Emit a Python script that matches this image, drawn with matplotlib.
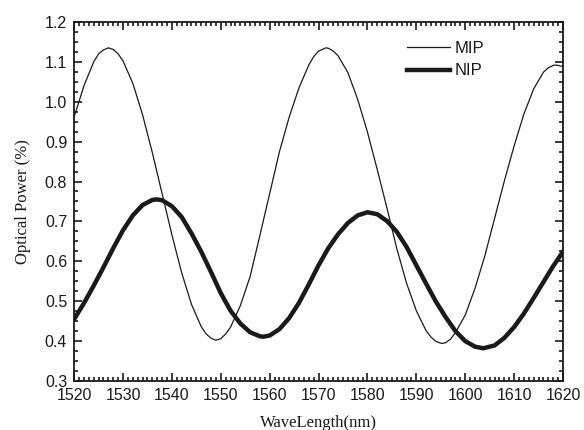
import matplotlib
matplotlib.use("Agg")
import matplotlib.pyplot as plt
from matplotlib.ticker import MultipleLocator


# wavelength grid (nm) and read-off values
mip_wl = [1520, 1522, 1524, 1525, 1526, 1527, 1528, 1529, 1530, 1532, 1534,
          1536, 1538, 1540, 1542, 1544, 1546, 1547, 1548, 1549, 1550, 1551,
          1552, 1554, 1556, 1558, 1560, 1562, 1564, 1566, 1568, 1569, 1570,
          1571.5, 1572, 1573, 1574, 1576, 1578, 1580, 1582, 1584, 1586, 1588,
          1590, 1592, 1593, 1594, 1595.2, 1596, 1597, 1598, 1600, 1602, 1604,
          1606, 1608, 1610, 1612, 1614, 1616, 1617, 1618, 1618.5, 1619, 1620]
mip_val = [0.962, 1.040, 1.100, 1.120, 1.130, 1.135, 1.131, 1.120, 1.102,
           1.046, 0.967, 0.872, 0.769, 0.666, 0.571, 0.492, 0.436, 0.418,
           0.407, 0.402, 0.406, 0.418, 0.435, 0.489, 0.562, 0.665, 0.770,
           0.875, 0.962, 1.035, 1.092, 1.113, 1.127, 1.135, 1.134, 1.127,
           1.115, 1.073, 1.006, 0.924, 0.830, 0.733, 0.632, 0.545, 0.476,
           0.426, 0.410, 0.399, 0.394, 0.396, 0.405, 0.421, 0.465, 0.532,
           0.613, 0.707, 0.801, 0.889, 0.969, 1.032, 1.074, 1.085, 1.091,
           1.092, 1.091, 1.088]

nip_wl = [1520, 1522, 1524, 1526, 1528, 1530, 1532, 1534, 1536, 1537, 1538,
          1540, 1542, 1544, 1546, 1548, 1550, 1552, 1554, 1556, 1558, 1558.7,
          1560, 1562, 1564, 1566, 1568, 1570, 1572, 1574, 1576, 1578, 1580,
          1582, 1584, 1586, 1588, 1590, 1592, 1594, 1596, 1598, 1600, 1602,
          1603.7, 1606, 1608, 1610, 1612, 1614, 1616, 1618, 1620]
nip_val = [0.455, 0.495, 0.539, 0.585, 0.633, 0.678, 0.715, 0.741, 0.754,
           0.755, 0.753, 0.738, 0.711, 0.670, 0.624, 0.573, 0.520, 0.476,
           0.444, 0.422, 0.412, 0.411, 0.414, 0.430, 0.458, 0.496, 0.542,
           0.590, 0.633, 0.668, 0.696, 0.715, 0.723, 0.718, 0.701, 0.674,
           0.636, 0.590, 0.544, 0.499, 0.460, 0.425, 0.400, 0.386, 0.382,
           0.389, 0.408, 0.435, 0.469, 0.508, 0.548, 0.588, 0.624]

x_ticks = [1520, 1530, 1540, 1550, 1560, 1570, 1580, 1590, 1600, 1610, 1620]
y_ticks = [0.3, 0.4, 0.5, 0.6, 0.7, 0.8, 0.9, 1.0, 1.1, 1.2]


fig = plt.figure(figsize=(5.84, 4.30), dpi=100)
ax = fig.add_axes([0.127, 0.114, 0.837, 0.835])

ax.plot(mip_wl, mip_val, color="#1a1a1a", lw=0.9, label="MIP")
ax.plot(nip_wl, nip_val, color="#1a1a1a", lw=3.2, label="NIP")

ax.set_xlim(1520, 1620)
ax.set_ylim(0.3, 1.2)
ax.set_xticks(x_ticks)
ax.set_yticks(y_ticks)
ax.set_xticklabels([str(t) for t in x_ticks])
ax.set_yticklabels([f"{t:.1f}" for t in y_ticks])
ax.xaxis.set_minor_locator(MultipleLocator(1))
ax.yaxis.set_minor_locator(MultipleLocator(0.025))

for s in ax.spines.values():
    s.set_linewidth(1.3)
    s.set_color("#1a1a1a")

ax.tick_params(which="both", direction="in", top=True, right=True,
               color="#1a1a1a", width=1.2)
ax.tick_params(which="major", length=6, labelsize=11.5, labelcolor="#1a1a1a")
ax.tick_params(axis="x", which="major", pad=5)
ax.tick_params(axis="y", which="major", pad=5)
ax.tick_params(which="minor", length=3)
for lab in ax.get_xticklabels() + ax.get_yticklabels():
    lab.set_fontfamily("Liberation Sans")

ax.set_xlabel("WaveLength(nm)", fontfamily="Liberation Serif", fontsize=12,
              color="#1a1a1a", labelpad=9)
ax.set_ylabel("Optical Power (%)", fontfamily="Liberation Serif", fontsize=12,
              color="#1a1a1a", labelpad=10)

leg = ax.legend(loc="upper left", bbox_to_anchor=(0.68, 0.947), frameon=False,
                borderpad=0, borderaxespad=0, handlelength=2.6,
                handletextpad=0.3, labelspacing=0.45,
                prop={"family": "Liberation Sans", "size": 12})
for t in leg.get_texts():
    t.set_color("#1a1a1a")

fig.savefig("out.png", dpi=100)
